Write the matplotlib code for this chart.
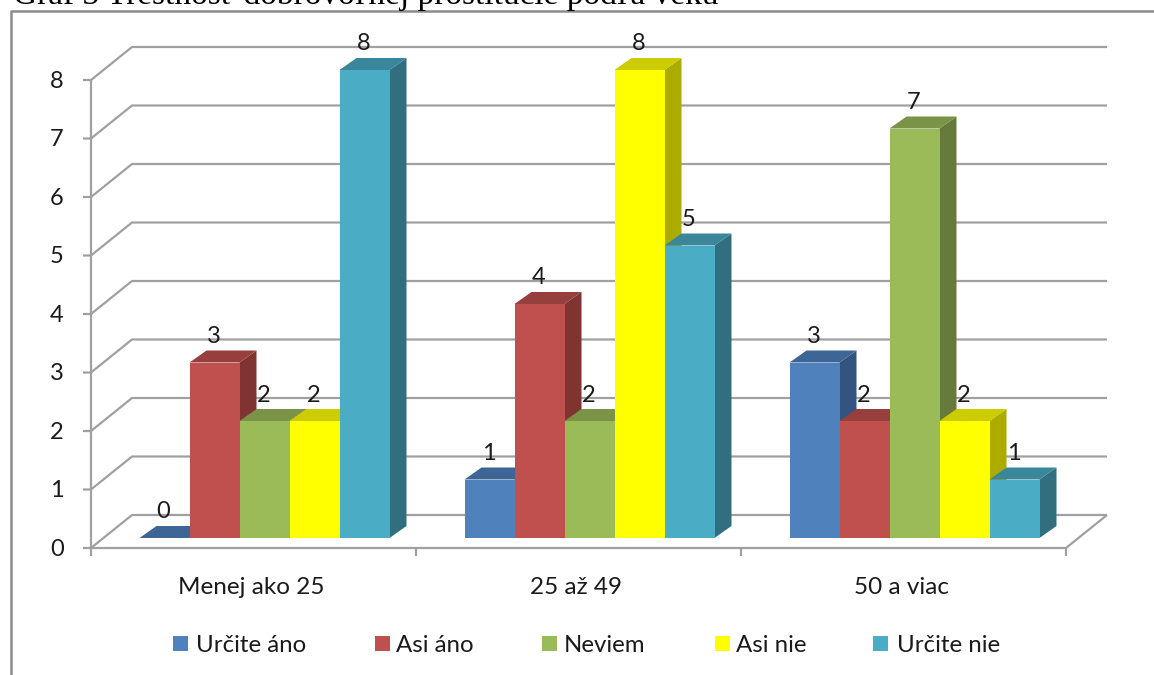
import matplotlib
matplotlib.use("Agg")
import matplotlib.pyplot as plt
from matplotlib.patches import Polygon, Rectangle
from matplotlib.lines import Line2D

categories = ["Menej ako 25", "25 až 49", "50 a viac"]
series_names = ["Určite áno", "Asi áno", "Neviem", "Asi nie", "Určite nie"]
urcite_ano = [0, 1, 3]
asi_ano = [3, 4, 2]
neviem = [2, 2, 7]
asi_nie = [2, 8, 2]
urcite_nie = [8, 5, 1]
y_ticks = list(range(9))
title = "Graf 3 Trestnosť dobrovoľnej prostitúcie podľa veku"

series_values = [urcite_ano, asi_ano, neviem, asi_nie, urcite_nie]
front = ["#4F81BD", "#C0504D", "#9BBB59", "#FFFF00", "#4BACC6"]
top = ["#3D6595", "#973F3C", "#7A9346", "#CCCC00", "#3A869B"]
side = ["#335480", "#7F3432", "#667B3B", "#ABAB00", "#316F80"]

W, H = 1154, 675
L, R, B, T = 91, 1066, 548, 80
px = 325.0           # pixels per category
py = 58.5            # pixels per value unit
ux, uy = 1 / px, 1 / py

fig = plt.figure(figsize=(W / 100, H / 100), dpi=100, facecolor="white")
ax = fig.add_axes([L / W, 1 - B / H, (R - L) / W, (B - T) / H])
ax.set_xlim(-0.5, 2.5)
ax.set_ylim(0, 8)
ax.axis("off")

GRID = "#a0a0a0"
FONT = "Lato"
TXT = "#1a1a1a"
# chart frame, in figure space
fig.add_artist(Line2D([11 / W, 11 / W, 1], [0, 1 - 11 / H, 1 - 11 / H], color="#8c8c8c", lw=1.8))
fig.text(13 / W, 1 - 4 / H, title, family="Liberation Serif", fontsize=24,
         color="black", ha="left", va="baseline")

wall_dx, wall_dy = 41 * ux, 33 * uy
x0, x1 = -0.5, 2.5
lkw = dict(color=GRID, lw=1.6, clip_on=False, solid_capstyle="butt", zorder=1)
for v in y_ticks:
    ax.plot([x0 - 8 * ux, x0, x0 + wall_dx, x1 + wall_dx],
            [v, v, v + wall_dy, v + wall_dy], **lkw)
    ax.text(x0 - 34 * ux, v - 0.02, str(v), ha="center", va="center",
            family=FONT, fontsize=17, color=TXT, clip_on=False)
# axis lines
ax.plot([x0, x0], [0, 8], **lkw)
ax.plot([x0, x1, x1 + wall_dx], [0, 0, wall_dy], **lkw)
for i in range(4):
    ax.plot([x0 + i, x0 + i], [0, -8 * uy], **lkw)

bar_w = 50 * ux
depth_x, depth_y = 17 * ux, 12 * uy
lift = 10 * uy
shift = 11 * ux
for s, vals in enumerate(series_values):
    offs = (s - 2) * bar_w + shift
    xs = [c + offs for c in range(len(categories))]
    for xc, v in zip(xs, vals):
        xl, xr = xc - bar_w / 2, xc + bar_w / 2
        bot, tp = lift, v + lift
        ax.add_patch(Polygon([(xr, bot), (xr + depth_x, bot + depth_y),
                              (xr + depth_x, tp + depth_y), (xr, tp)],
                             closed=True, fc=side[s], ec="none", zorder=3 + s * 0.1, clip_on=False))
        ax.add_patch(Polygon([(xl, tp), (xr, tp), (xr + depth_x, tp + depth_y),
                              (xl + depth_x, tp + depth_y)],
                             closed=True, fc=top[s], ec="none", zorder=3 + s * 0.1, clip_on=False))
    ax.bar(xs, vals, width=bar_w, bottom=lift, color=front[s], linewidth=0, zorder=3.05 + s * 0.1,
           clip_on=False)
    for xc, v in zip(xs, vals):
        ax.text(xc - 1 * ux, v + lift + 26 * uy, str(v), ha="center", va="center",
                family=FONT, fontsize=17, color=TXT, zorder=6, clip_on=False)

for i, c in enumerate(categories):
    ax.text(i - 2 * ux, -39 * uy, c, ha="center", va="center", family=FONT, fontsize=17.5,
            color=TXT, clip_on=False)

# legend
leg_x = [173, 375, 542, 715, 873]
leg_gap = [23, 21, 22, 21, 24]
for x, gap, name, col in zip(leg_x, leg_gap, series_names, front):
    fig.add_artist(Rectangle((x / W, 1 - 651 / H), 15 / W, 15 / H, fc=col, ec="none",
                             transform=fig.transFigure))
    fig.text((x + gap) / W, 1 - 645 / H, name, family=FONT, fontsize=17.3, color=TXT,
             ha="left", va="center")

fig.savefig("out.png", dpi=100)
